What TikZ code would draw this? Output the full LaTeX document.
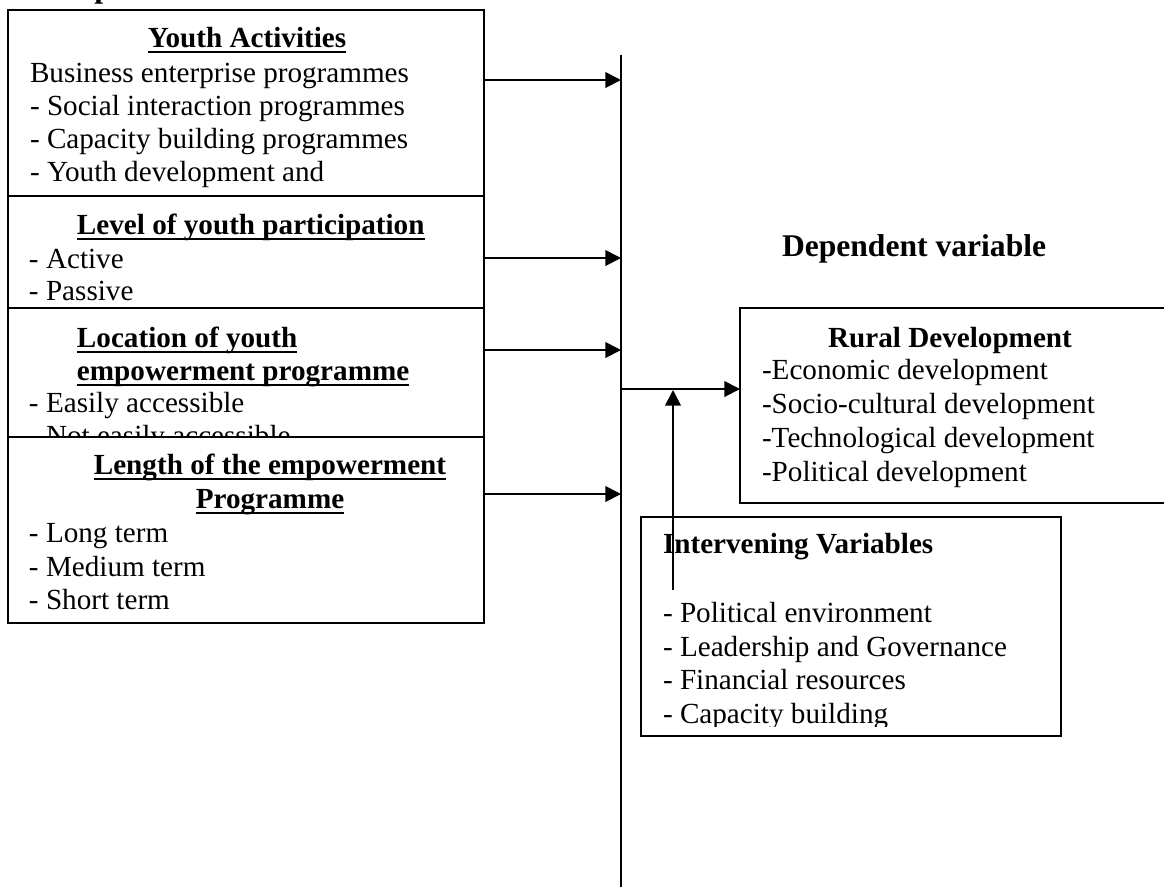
\documentclass[tikz,border=0pt]{standalone}
\usepackage{fontspec}
\setmainfont{Liberation Serif}
\usetikzlibrary{arrows.meta}
\newdimen\pxu \pxu=0.4115pt
\newcommand{\ulhd}[1]{\setbox0\hbox{\bfseries #1}\rlap{\copy0}\rule[-2.6pt]{\wd0}{0.8pt}}
\begin{document}
\begin{tikzpicture}[x=0.4115pt,y=-0.4115pt,
  box/.style={draw, line width=0.8pt, fill=white, rectangle, inner sep=0pt, outer sep=0pt, anchor=north west},
  txt/.style={inner sep=0pt, outer sep=0pt, anchor=base west, font=\fontsize{12}{13.8}\selectfont},
  hdc/.style={txt, anchor=base},
  bighd/.style={txt, font=\fontsize{13}{15}\selectfont\bfseries},
  conn/.style={line width=0.8pt, -{Triangle[length=6.4pt,width=6.4pt]}},
  barline/.style={line width=0.8pt}]
\clip (0,0) rectangle (1164,886);

% fragment of the heading cut off at the top
\node[bighd] (indep) at (33,-2.5) {Independent variables};

% Box 1
\node[box, minimum width=476\pxu, minimum height=186\pxu] (ya) at (8,10) {};
\node[hdc] (yah) at (247,47) {\ulhd{Youth Activities}};
\node[txt] (ya1) at (30,82) {Business enterprise programmes};
\node[txt] (ya2) at (30,115) {- Social interaction programmes};
\node[txt] (ya3) at (30,148) {- Capacity building programmes};
\node[txt] (ya4) at (30,181) {- Youth development and};

% Box 2
\node[box, minimum width=476\pxu, minimum height=112\pxu] (lp) at (8,196) {};
\node[txt] (lph) at (77,234) {\ulhd{Level of youth participation}};
\node[txt] (lp1) at (29,268) {- Active};
\node[txt] (lp2) at (29,300) {- Passive};

% Box 3
\node[box, minimum width=476\pxu, minimum height=129\pxu] (lo) at (8,308) {};
\node[txt] (loh1) at (77,347) {\ulhd{Location of youth}};
\node[txt] (loh2) at (77,380) {\ulhd{empowerment programme}};
\node[txt] (lo1) at (29,412) {- Easily accessible};
\node[txt] (lo2) at (29,445) {- Not easily accessible};

% Box 4
\node[box, minimum width=476\pxu, minimum height=186\pxu] (le) at (8,437) {};
\node[hdc] (leh1) at (270,474) {\ulhd{Length of the empowerment}};
\node[hdc] (leh2) at (270,508) {\ulhd{Programme}};
\node[txt] (le1) at (29,542) {- Long term};
\node[txt] (le2) at (29,576) {- Medium term};
\node[txt] (le3) at (29,609) {- Short term};

% Dependent variable
\node[bighd] (dep) at (782,256) {Dependent variable};

% Rural development
\node[box, minimum width=430\pxu, minimum height=195\pxu] (rd) at (740,308) {};
\node[hdc] (rdh) at (950,347) {\textbf{Rural Development}};
\node[txt] (rd1) at (762,379) {-Economic development};
\node[txt] (rd2) at (762,413) {-Socio-cultural development};
\node[txt] (rd3) at (762,447) {-Technological development};
\node[txt] (rd4) at (762,481) {-Political development};

% Intervening variables
\node[box, minimum width=420\pxu, minimum height=219\pxu] (iv) at (641,517) {};
\begin{scope}
\clip (641,517) rectangle (1061,726);
\node[txt] (ivh) at (663,553) {\textbf{Intervening Variables}};
\node[txt] (iv1) at (663,622) {- Political environment};
\node[txt] (iv2) at (663,656) {- Leadership and Governance};
\node[txt] (iv3) at (663,689) {- Financial resources};
\node[txt] (iv4) at (663,723) {- Capacity building};
\end{scope}

% vertical bar and connectors
\coordinate (bartop) at (621,55);
\coordinate (barbot) at (621,890);
\draw[barline] (bartop) -- (barbot);
\coordinate (b1) at (621,80);
\coordinate (b2) at (621,258);
\coordinate (b3) at (621,350);
\coordinate (b4) at (621,494);
\coordinate (bm) at (621,389);
\coordinate (upstart) at (673,590);
\coordinate (upend) at (673,390);
\draw[conn] (ya.east |- b1) -- (b1);
\draw[conn] (lp.east |- b2) -- (b2);
\draw[conn] (lo.east |- b3) -- (b3);
\draw[conn] (le.east |- b4) -- (b4);
\draw[conn] (bm) -- (rd.west |- bm);
\draw[conn] (upstart) -- (upend);
\end{tikzpicture}
\end{document}
